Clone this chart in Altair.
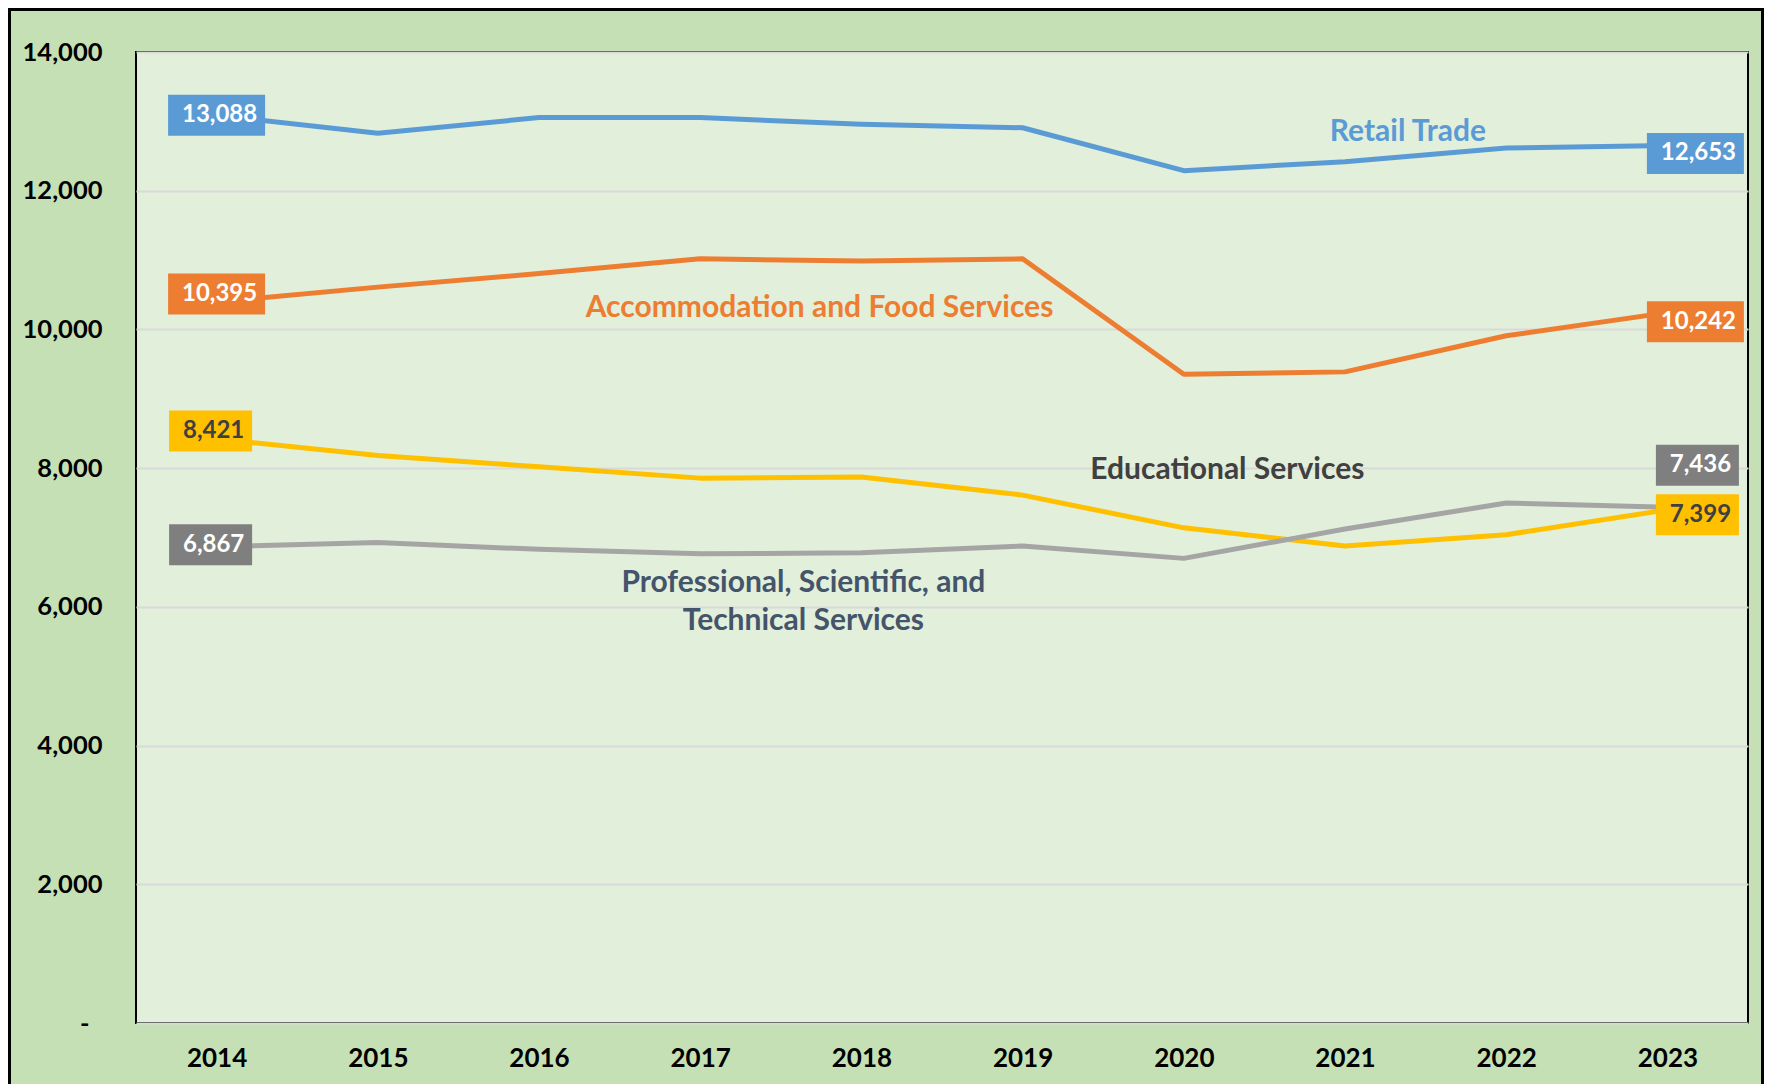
import altair as alt
import pandas as pd

# ---------------- data ----------------
years = [2014, 2015, 2016, 2017, 2018, 2019, 2020, 2021, 2022, 2023]
retail = [13088, 12827, 13055, 13055, 12957, 12908, 12289, 12419, 12615, 12653]
accommodation = [10395, 10610, 10806, 11018, 10985, 11018, 9355, 9388, 9909, 10242]
educational = [8421, 8182, 8019, 7856, 7872, 7611, 7139, 6878, 7041, 7399]
professional = [6867, 6927, 6829, 6764, 6780, 6878, 6699, 7122, 7497, 7436]

series_names = ["Retail Trade", "Accommodation and Food Services",
                "Educational Services", "Professional, Scientific, and Technical Services"]
series_values = [retail, accommodation, educational, professional]

y_ticks = [0, 2000, 4000, 6000, 8000, 10000, 12000, 14000]

# annotation texts (label, x in years, y value)
ann_text = ["Retail Trade", "Accommodation and Food Services",
            "Educational Services", "Professional, Scientific, and\nTechnical Services"]
ann_x = [2021.39, 2017.74, 2020.27, 2017.64]
ann_y = [12847, 10302, 7973, 6344]

# ---------------- styles ----------------
line_colors = ["#5B9BD5", "#ED7D31", "#FFC000", "#A5A5A5"]
box_colors = ["#5B9BD5", "#ED7D31", "#FFC000", "#7F7F7F"]
box_text_colors = ["white", "white", "#404040", "white"]
ann_colors = ["#5B9BD5", "#ED7D31", "#404040", "#44546A"]
# pixel offsets of the value boxes (first, last)
first_off = [(0, 0), (0, -8), (-6, -8), (-6, -2)]
last_off = [(28, 8), (28, 9), (30, 5), (30, -42)]

W, H = 1612, 971
PAD_L, PAD_T, PAD_R, PAD_B = 128, 44, 16, 61
FONT = "Lato"

rows = []
for name, vals in zip(series_names, series_values):
    for yr, v in zip(years, vals):
        rows.append({"series": name, "year": yr, "value": v})
df = pd.DataFrame(rows)

xscale = alt.Scale(domain=[2013.5, 2023.5], nice=False, zero=False)
yscale = alt.Scale(domain=[0, 14000], nice=False)
xaxis = alt.Axis(values=years, format="d", title=None, grid=False, ticks=False,
                 domain=False, labelFont=FONT, labelFontWeight="bold", labelFontSize=26,
                 labelColor="black", labelPadding=22)
yaxis = alt.Axis(values=y_ticks, title=None, ticks=False, domain=False,
                 labelFont=FONT, labelFontWeight="bold", labelFontSize=25.5,
                 labelColor="black",
                 labelPadding={"condition": {"test": "datum.value == 0", "value": 47}, "value": 34},
                 labelExpr="datum.value == 0 ? '-' : format(datum.value, ',')",
                 gridColor="#D9D9D9", gridWidth=2)

X = alt.X("year:Q", scale=xscale, axis=xaxis)
Y = alt.Y("value:Q", scale=yscale, axis=yaxis)

lines = alt.Chart(df).mark_line(strokeWidth=5, strokeJoin="round").encode(
    x=X, y=Y,
    color=alt.Color("series:N", scale=alt.Scale(domain=series_names, range=line_colors), legend=None),
    detail="series:N",
)

layers = [lines]

for i, (name, vals) in enumerate(zip(series_names, series_values)):
    for idx, off in ((0, first_off[i]), (-1, last_off[i])):
        v = vals[idx]
        yr = years[idx]
        txt = f"{v:,}"
        w = 97 if v >= 10000 else 83
        h = 41
        r = h / w
        shape = f"M-1,{-r:.4f}H1V{r:.4f}H-1Z"
        d = pd.DataFrame([{"year": yr, "value": v, "label": txt}])
        box = alt.Chart(d).mark_point(
            shape=shape, size=w * w, filled=True, opacity=1, strokeWidth=0,
            color=box_colors[i], xOffset=off[0], yOffset=off[1]
        ).encode(x=X, y=Y)
        lab = alt.Chart(d).mark_text(
            font=FONT, fontWeight="bold", fontSize=24, color=box_text_colors[i],
            dx=off[0] + 3, dy=off[1], align="center", baseline="middle"
        ).encode(x=X, y=Y, text="label:N")
        layers += [box, lab]

ann_df = pd.DataFrame({"year": ann_x, "value": ann_y, "label": ann_text, "c": ann_colors})
ann = alt.Chart(ann_df).mark_text(
    font=FONT, fontWeight="bold", fontSize=30, align="center", baseline="middle",
    lineBreak="\n", lineHeight=38
).encode(x=X, y=Y, text="label:N", color=alt.Color("c:N", scale=None))
layers.append(ann)

frame = alt.Chart(pd.DataFrame({"a": [0]})).mark_rect(
    filled=False, stroke="black", strokeWidth=3
).encode(
    x=alt.value(-PAD_L + 1.5), x2=alt.value(W + PAD_R - 1.5),
    y=alt.value(-PAD_T + 1.5), y2=alt.value(H + PAD_B + 20),
)
layers.append(frame)

chart = alt.layer(*layers).properties(
    width=W, height=H,
    padding={"left": PAD_L, "top": PAD_T, "right": PAD_R, "bottom": PAD_B},
    autosize=alt.AutoSizeParams(type="none"),
    background="#C5E0B4",
).configure_view(
    fill="#E2EFDA", stroke="black", strokeWidth=2
)

chart.save("out.html", embed_options={"renderer": "svg", "actions": False})
